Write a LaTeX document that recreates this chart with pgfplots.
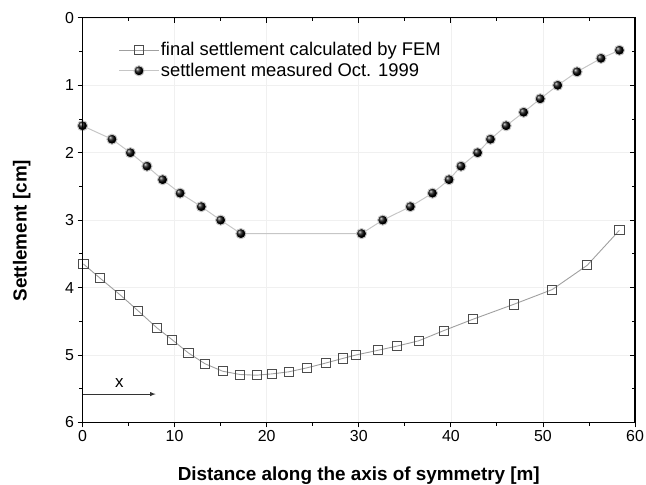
\documentclass[border=0pt]{standalone}
\usepackage{pgfplots}
\pgfplotsset{compat=1.18}
\usepackage{fontspec}
\setmainfont{Liberation Sans}
\begin{document}
\begin{tikzpicture}
\pgfplotsset{
  common/.style={
    scale only axis, width=556pt, height=407pt,
    xmin=0, xmax=60, ymin=0, ymax=6, y dir=reverse,
    xtick={0,10,...,60}, ytick={0,1,...,6},
    minor x tick num=1, minor y tick num=1,
    major tick length=5pt, minor tick length=3.5pt,
    every tick/.style={black, line width=0.9pt},
    axis line style={line width=1.2pt},
    /pgf/number format/assume math mode=true,
  }
}
\begin{axis}[common,
  tick align=outside, xtick pos=left, ytick pos=left,
  grid=major, major grid style={gray!12, line width=0.6pt},
  ticklabel style={font=\fontsize{16}{16}\selectfont},
  xlabel={\bfseries Distance along the axis of symmetry [m]},
  ylabel={\bfseries Settlement [cm]},
  xlabel style={font=\fontsize{19}{20}\selectfont, at={(axis description cs:0.5,-0.132)}, anchor=center},
  ylabel style={font=\fontsize{19}{20}\selectfont, at={(axis description cs:-0.11,0.474)}, anchor=center, rotate=0},
  legend style={at={(axis description cs:0.065,0.943)}, anchor=north west, draw=none, fill=none,
    font=\fontsize{18.5}{20}\selectfont, row sep=3pt, inner xsep=0pt, inner ysep=0pt,
    nodes={inner sep=1.5pt}},
  legend cell align=left,
  legend image code/.code={\draw[mark repeat=2,mark phase=2,#1] plot coordinates {(0pt,0pt) (20pt,0pt) (40pt,0pt)};},
]
\coordinate (SW) at (axis description cs:0,0);
\coordinate (NE) at (axis description cs:1,1);
\addplot[gray!75, line width=0.9pt, mark=square, mark size=4.6pt,
  mark options={fill=white, draw=black!70, line width=0.8pt}] coordinates {
(0.1,3.65) (1.9,3.86) (4.1,4.11) (6.0,4.34) (8.1,4.60) (9.7,4.77) (11.5,4.97)
(13.3,5.13) (15.2,5.24) (17.1,5.29) (18.9,5.30) (20.6,5.28) (22.4,5.25)
(24.4,5.19) (26.4,5.12) (28.3,5.05) (29.7,5.00) (32.1,4.93) (34.1,4.87)
(36.5,4.79) (39.2,4.64) (42.4,4.47) (46.8,4.25) (51.0,4.03) (54.8,3.67) (58.3,3.15)
};
\addlegendentry{final settlement calculated by FEM}
\addplot[gray!45, line width=1pt, mark=ball, mark size=5.1pt,
  mark options={ball color=black}] coordinates {
(0,1.6) (3.2,1.8) (5.2,2.0) (7.0,2.2) (8.7,2.4) (10.6,2.6) (12.9,2.8) (15.0,3.0)
(17.2,3.2) (30.3,3.2) (32.6,3.0) (35.6,2.8) (38.0,2.6) (39.8,2.4) (41.1,2.2)
(42.9,2.0) (44.3,1.8) (46.0,1.6) (47.9,1.4) (49.7,1.2) (51.6,1.0) (53.7,0.8)
(56.3,0.6) (58.3,0.48)
};
\addlegendentry{settlement measured Oct. 1999}
\draw[-latex, line width=0.9pt, black!80] (axis cs:0,5.58) -- (axis cs:7.95,5.58);
\node[font=\fontsize{17}{17}\selectfont] at (axis cs:4.0,5.42) {x};
\end{axis}
\begin{axis}[common,
  tick align=inside, xtick pos=right, ytick pos=right,
  xticklabels={}, yticklabels={},
]
\end{axis}
\pgfresetboundingbox
\path ([xshift=-83pt,yshift=-62pt]SW) rectangle ([xshift=11pt,yshift=18pt]NE);
\end{tikzpicture}
\end{document}
